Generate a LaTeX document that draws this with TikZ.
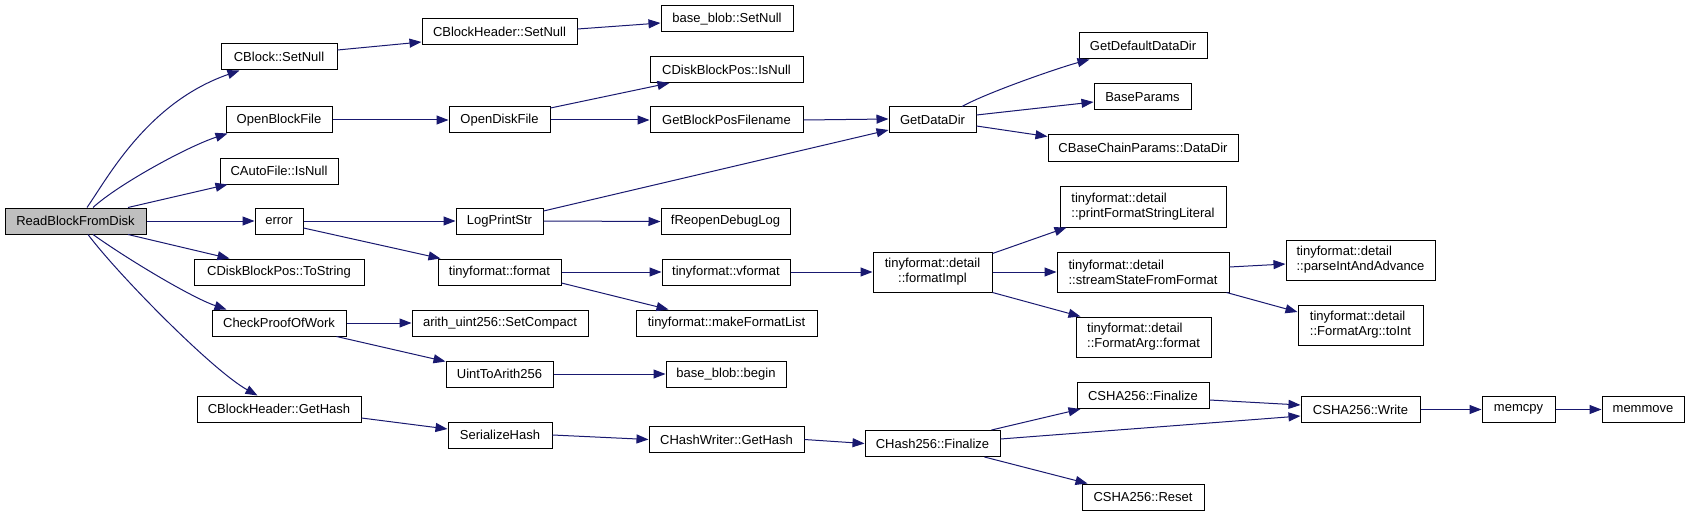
\documentclass[tikz,border=0pt]{standalone}
\usepackage{fontspec}
\setmainfont{Liberation Sans}
\usetikzlibrary{arrows.meta}
\definecolor{edgeblue}{RGB}{25,25,112}
\definecolor{rootgray}{RGB}{191,191,191}
\begin{document}
\begin{tikzpicture}[x=1pt,y=-1pt,
  box/.style={draw=black, line width=1pt, fill=white, inner sep=0pt, minimum height=26pt, font=\fontsize{13}{15}\selectfont, text=black},
  box2/.style={box, minimum height=40pt, align=left},
  edge/.style={draw=edgeblue, line width=1pt, -{Triangle[length=12pt,width=9pt]}}
]
\fill[white] (0,0) rectangle (1689,516);
\useasboundingbox (0,0) rectangle (1689,516);

% column 0
\node[box, fill=rootgray, minimum width=141pt] (rbfd) at (75.5,221) {ReadBlockFromDisk};
% column 1
\node[box, minimum width=116pt] (cblocksetnull) at (279,57) {CBlock::SetNull};
\node[box, minimum width=106pt] (openblockfile) at (279,120) {OpenBlockFile};
\node[box, minimum width=118pt] (cautofileisnull) at (279,171) {CAutoFile::IsNull};
\node[box, minimum width=48pt] (error) at (279,221) {error};
\node[box, minimum width=170pt] (cdbptostring) at (279,272) {CDiskBlockPos::ToString};
\node[box, minimum width=134pt] (checkpow) at (279,323) {CheckProofOfWork};
\node[box, minimum width=164pt] (cbhgethash) at (279,409) {CBlockHeader::GetHash};
% column 2
\node[box, minimum width=155pt] (cbhsetnull) at (499.5,32) {CBlockHeader::SetNull};
\node[box, minimum width=101pt] (opendiskfile) at (499.5,120) {OpenDiskFile};
\node[box, minimum width=87pt] (logprintstr) at (499.5,221) {LogPrintStr};
\node[box, minimum width=123pt] (tfformat) at (499.5,272) {tinyformat::format};
\node[box, minimum width=176pt] (setcompact) at (500,323) {arith\_uint256::SetCompact};
\node[box, minimum width=107pt] (uinttoarith) at (499.5,374) {UintToArith256};
\node[box, minimum width=104pt] (serializehash) at (500,435) {SerializeHash};
% column 3
\node[box, minimum width=132pt] (bbsetnull) at (727,19) {base\_blob::SetNull};
\node[box, minimum width=153pt] (cdbpisnull) at (726.5,69.5) {CDiskBlockPos::IsNull};
\node[box, minimum width=153pt] (getblockposfilename) at (726.5,120) {GetBlockPosFilename};
\node[box, minimum width=129pt] (freopendebuglog) at (725.5,221.5) {fReopenDebugLog};
\node[box, minimum width=128pt] (tfvformat) at (726,272) {tinyformat::vformat};
\node[box, minimum width=181pt] (makefmtlist) at (726.5,323) {tinyformat::makeFormatList};
\node[box, minimum width=120pt] (bbbegin) at (726,374) {base\_blob::begin};
\node[box, minimum width=155pt] (chwgethash) at (726.5,439.5) {CHashWriter::GetHash};
% column 4
\node[box, minimum width=87pt] (getdatadir) at (932.5,120) {GetDataDir};
\node[box2, align=center, minimum width=119pt] (formatimpl) at (932.5,272) {tinyformat::detail\\::formatImpl};
\node[box, minimum width=135pt] (ch256finalize) at (932.5,443.5) {CHash256::Finalize};
% column 5
\node[box, minimum width=128pt] (getdefaultdatadir) at (1143,46) {GetDefaultDataDir};
\node[box, minimum width=97pt] (baseparams) at (1142.5,97) {BaseParams};
\node[box, minimum width=190pt] (cbcpdatadir) at (1143,148) {CBaseChainParams::DataDir};
\node[box2, minimum width=166pt, minimum height=41pt] (printfsl) at (1143,206.5) {tinyformat::detail\\::printFormatStringLiteral};
\node[box2, minimum width=172pt] (sssff) at (1143,272) {tinyformat::detail\\::streamStateFromFormat};
\node[box2, minimum width=135pt] (faformat) at (1143.5,337) {tinyformat::detail\\::FormatArg::format};
\node[box, minimum width=132pt] (sha256finalize) at (1143,395.5) {CSHA256::Finalize};
\node[box, minimum width=122pt] (sha256reset) at (1143,497) {CSHA256::Reset};
% column 6
\node[box2, minimum width=149pt] (parseint) at (1360.5,260) {tinyformat::detail\\::parseIntAndAdvance};
\node[box2, minimum width=125pt] (fatoint) at (1360.5,325) {tinyformat::detail\\::FormatArg::toInt};
\node[box, minimum width=119pt] (sha256write) at (1360.5,409.5) {CSHA256::Write};
% column 7, 8
\node[box, minimum width=73pt] (memcpy) at (1518.5,409.5) {memcpy};
\node[box, minimum width=82pt] (memmove) at (1643,409.5) {memmove};

% edges from root
\draw[edge] ([xshift=11.5pt]rbfd.north) .. controls +(21,-30) and +(-92,32) .. ([xshift=19pt]cblocksetnull.south west);
\draw[edge] ([xshift=17.5pt]rbfd.north) .. controls +(25,-23) and +(-40,13) .. ([xshift=2pt]openblockfile.south west);
\draw[edge] ([xshift=52.5pt]rbfd.north) -- ([xshift=8pt]cautofileisnull.south west);
\draw[edge] (rbfd.east) -- (error.west);
\draw[edge] ([xshift=52.5pt]rbfd.south) -- ([xshift=36pt]cdbptostring.north west);
\draw[edge] ([xshift=17.5pt]rbfd.south) .. controls +(35,25) and +(-35,-12) .. ([xshift=15pt]checkpow.north west);
\draw[edge] ([xshift=12.5pt]rbfd.south) .. controls +(30,40) and +(-45,-25) .. ([xshift=61pt]cbhgethash.north west);
% rest
\draw[edge] ([yshift=7pt]cblocksetnull.east) -- ([yshift=-10pt]cbhsetnull.west);
\draw[edge] ([yshift=3pt]cbhsetnull.east) -- ([yshift=-4pt]bbsetnull.west);
\draw[edge] (openblockfile.east) -- (opendiskfile.west);
\draw[edge] ([yshift=12pt]opendiskfile.east) -- ([xshift=20pt]cdbpisnull.south west);
\draw[edge] (opendiskfile.east) -- (getblockposfilename.west);
\draw[edge] (getblockposfilename.east) -- ([yshift=1pt]getdatadir.west);
\draw[edge] ([xshift=29.5pt]getdatadir.north) .. controls +(25,-14) and +(-30,8) .. ([xshift=11pt]getdefaultdatadir.south west);
\draw[edge] ([yshift=5pt]getdatadir.east) -- ([yshift=-5pt]baseparams.west);
\draw[edge] ([yshift=-6pt]getdatadir.east) -- ([yshift=-2pt]cbcpdatadir.north west);
\draw[edge] (error.east) -- (logprintstr.west);
\draw[edge] ([yshift=-7pt]error.east) -- ([xshift=3pt]tfformat.north west);
\draw[edge] ([yshift=10pt]logprintstr.east) -- ([yshift=-10pt]getdatadir.west);
\draw[edge] (logprintstr.east) -- (freopendebuglog.west);
\draw[edge] (tfformat.east) -- (tfvformat.west);
\draw[edge] ([yshift=-11pt]tfformat.east) -- ([xshift=33pt]makefmtlist.north west);
\draw[edge] (tfvformat.east) -- (formatimpl.west);
\draw[edge] ([yshift=-2pt]formatimpl.north east) -- ([xshift=7pt]printfsl.south west);
\draw[edge] (formatimpl.east) -- (sssff.west);
\draw[edge] (formatimpl.south east) -- ([xshift=5pt]faformat.north west);
\draw[edge] ([yshift=5pt]sssff.east) -- ([yshift=-4pt]parseint.west);
\draw[edge] ([xshift=-3pt]sssff.south east) -- ([yshift=13pt]fatoint.west);
\draw[edge] (checkpow.east) -- (setcompact.west);
\draw[edge] ([xshift=-10pt]checkpow.south east) -- ([yshift=-1pt]uinttoarith.north west);
\draw[edge] (uinttoarith.east) -- (bbbegin.west);
\draw[edge] ([yshift=-9pt]cbhgethash.east) -- ([yshift=6pt]serializehash.west);
\draw[edge] (serializehash.east) -- (chwgethash.west);
\draw[edge] (chwgethash.east) -- (ch256finalize.west);
\draw[edge] ([xshift=-9pt]ch256finalize.north east) -- ([xshift=4pt]sha256finalize.south west);
\draw[edge] ([yshift=4.5pt]ch256finalize.east) -- ([yshift=-6.5pt]sha256write.west);
\draw[edge] ([xshift=-16pt]ch256finalize.south east) -- ([xshift=6pt]sha256reset.north west);
\draw[edge] ([yshift=-4.5pt]sha256finalize.east) -- ([yshift=4.5pt]sha256write.west);
\draw[edge] (sha256write.east) -- (memcpy.west);
\draw[edge] (memcpy.east) -- (memmove.west);
\end{tikzpicture}
\end{document}
